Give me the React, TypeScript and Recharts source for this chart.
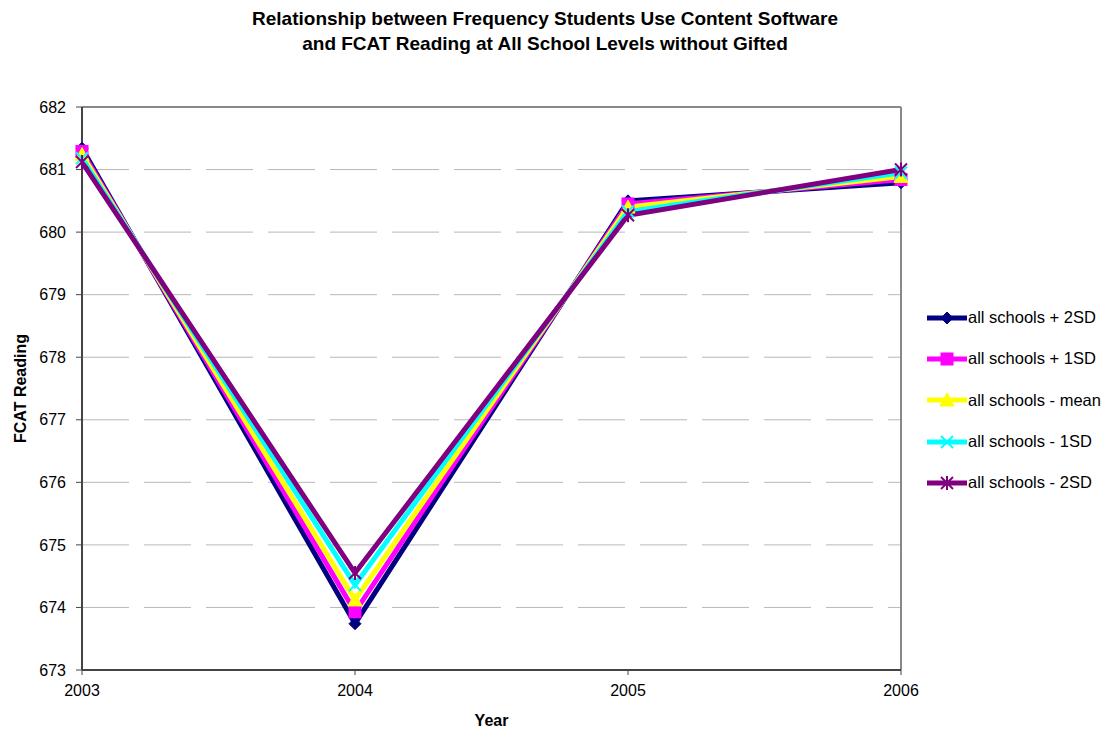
import React from 'react';
import { LineChart, Line, XAxis, YAxis, CartesianGrid, ReferenceLine } from 'recharts';

const years = [2003, 2004, 2005, 2006];
const plus2SD = [681.34, 673.74, 680.5, 680.79];
const plus1SD = [681.29, 673.93, 680.45, 680.84];
const meanVals = [681.24, 674.12, 680.4, 680.89];
const minus1SD = [681.18, 674.36, 680.33, 680.95];
const minus2SD = [681.12, 674.55, 680.27, 681.0];
const yTicks = [673, 674, 675, 676, 677, 678, 679, 680, 681, 682];

const series = [
  { key: 'p2', name: 'all schools + 2SD', values: plus2SD, color: '#000080', marker: 'diamond' },
  { key: 'p1', name: 'all schools + 1SD', values: plus1SD, color: '#FF00FF', marker: 'square' },
  { key: 'm', name: 'all schools - mean', values: meanVals, color: '#FFFF00', marker: 'triangle' },
  { key: 'm1', name: 'all schools - 1SD', values: minus1SD, color: '#00FFFF', marker: 'x' },
  { key: 'm2', name: 'all schools - 2SD', values: minus2SD, color: '#800080', marker: 'star' },
];

const data = years.map((y, i) => {
  const row: any = { year: y };
  series.forEach((s) => { row[s.key] = s.values[i]; });
  return row;
});

const FONT = 'Arial, "Liberation Sans", sans-serif';

function MarkerShape({ cx, cy, kind, color }: { cx: number; cy: number; kind: string; color: string }) {
  if (cx == null || cy == null) return null;
  const r = 6;
  switch (kind) {
    case 'diamond':
      return <polygon points={`${cx},${cy - r} ${cx + r},${cy} ${cx},${cy + r} ${cx - r},${cy}`} fill={color} stroke={color} />;
    case 'square':
      return <rect x={cx - 6} y={cy - 6} width={12} height={12} fill={color} stroke={color} />;
    case 'triangle':
      return <polygon points={`${cx},${cy - 7} ${cx + 7},${cy + 6} ${cx - 7},${cy + 6}`} fill={color} stroke={color} />;
    case 'x':
      return (
        <g stroke={color} strokeWidth={2}>
          <line x1={cx - 6} y1={cy - 6} x2={cx + 6} y2={cy + 6} />
          <line x1={cx - 6} y1={cy + 6} x2={cx + 6} y2={cy - 6} />
        </g>
      );
    case 'star':
      return (
        <g stroke={color} strokeWidth={2}>
          <line x1={cx - 6} y1={cy - 6} x2={cx + 6} y2={cy + 6} />
          <line x1={cx - 6} y1={cy + 6} x2={cx + 6} y2={cy - 6} />
          <line x1={cx} y1={cy - 7} x2={cx} y2={cy + 7} />
        </g>
      );
    default:
      return null;
  }
}

const LegendBox = () => (
  <div style={{ position: 'absolute', left: 925, top: 297, fontFamily: FONT, fontSize: 16.5, color: '#000' }}>
    {series.map((s) => (
      <div key={s.key} style={{ display: 'flex', alignItems: 'center', height: 41.3, whiteSpace: 'nowrap' }}>
        <svg width={43} height={16} style={{ display: 'block' }}>
          <line x1={2} y1={8} x2={42} y2={8} stroke={s.color} strokeWidth={5} />
          <MarkerShape cx={22} cy={8} kind={s.marker} color={s.color} />
        </svg>
        <span>{s.name}</span>
      </div>
    ))}
  </div>
);

export default function App() {
  return (
    <div style={{ position: 'absolute', left: 0, top: 0, width: 1111, height: 731, background: '#fff', fontFamily: FONT }}>
      <div style={{ position: 'absolute', left: 0, width: 1090, top: 6, textAlign: 'center', fontWeight: 'bold', fontSize: 19, lineHeight: '25px', color: '#000' }}>
        Relationship between Frequency Students Use Content Software<br />and FCAT Reading at All School Levels without Gifted
      </div>
      <LineChart width={1111} height={731} data={data} margin={{ top: 107, right: 210, bottom: 21, left: 0 }}>
        <CartesianGrid horizontal vertical={false} stroke="#b8b8b8" strokeDasharray="47 15" />
        <ReferenceLine y={682} stroke="#888" strokeWidth={2} />
        <ReferenceLine x={2006} stroke="#888" strokeWidth={2} />
        <XAxis
          dataKey="year"
          type="number"
          domain={[2003, 2006]}
          ticks={years}
          height={40}
          tick={{ fill: '#000', fontSize: 16, fontFamily: FONT }}
          axisLine={{ stroke: '#444', strokeWidth: 2 }}
          tickLine={{ stroke: '#444' }}
          tickSize={5}
          tickMargin={10}
          label={{ value: 'Year', position: 'insideBottom', offset: -16, fill: '#000', fontSize: 16, fontWeight: 'bold', fontFamily: FONT }}
        />
        <YAxis
          type="number"
          domain={[673, 682]}
          ticks={yTicks}
          width={82}
          interval={0}
          tick={{ fill: '#000', fontSize: 16, fontFamily: FONT }}
          axisLine={{ stroke: '#444', strokeWidth: 2 }}
          tickLine={{ stroke: '#444' }}
          tickSize={6}
          tickMargin={10}
          label={{ value: 'FCAT Reading', angle: -90, position: 'insideLeft', offset: 20, fill: '#000', fontSize: 16, fontWeight: 'bold', fontFamily: FONT, style: { textAnchor: 'middle' } }}
        />
        {series.map((s) => (
          <Line
            key={s.key}
            dataKey={s.key}
            name={s.name}
            stroke={s.color}
            strokeWidth={5}
            isAnimationActive={false}
            dot={(p: any) => <MarkerShape key={`${s.key}-${p.index}`} cx={p.cx} cy={p.cy} kind={s.marker} color={s.color} />}
            activeDot={false}
          />
        ))}
      </LineChart>
      <LegendBox />
    </div>
  );
}
